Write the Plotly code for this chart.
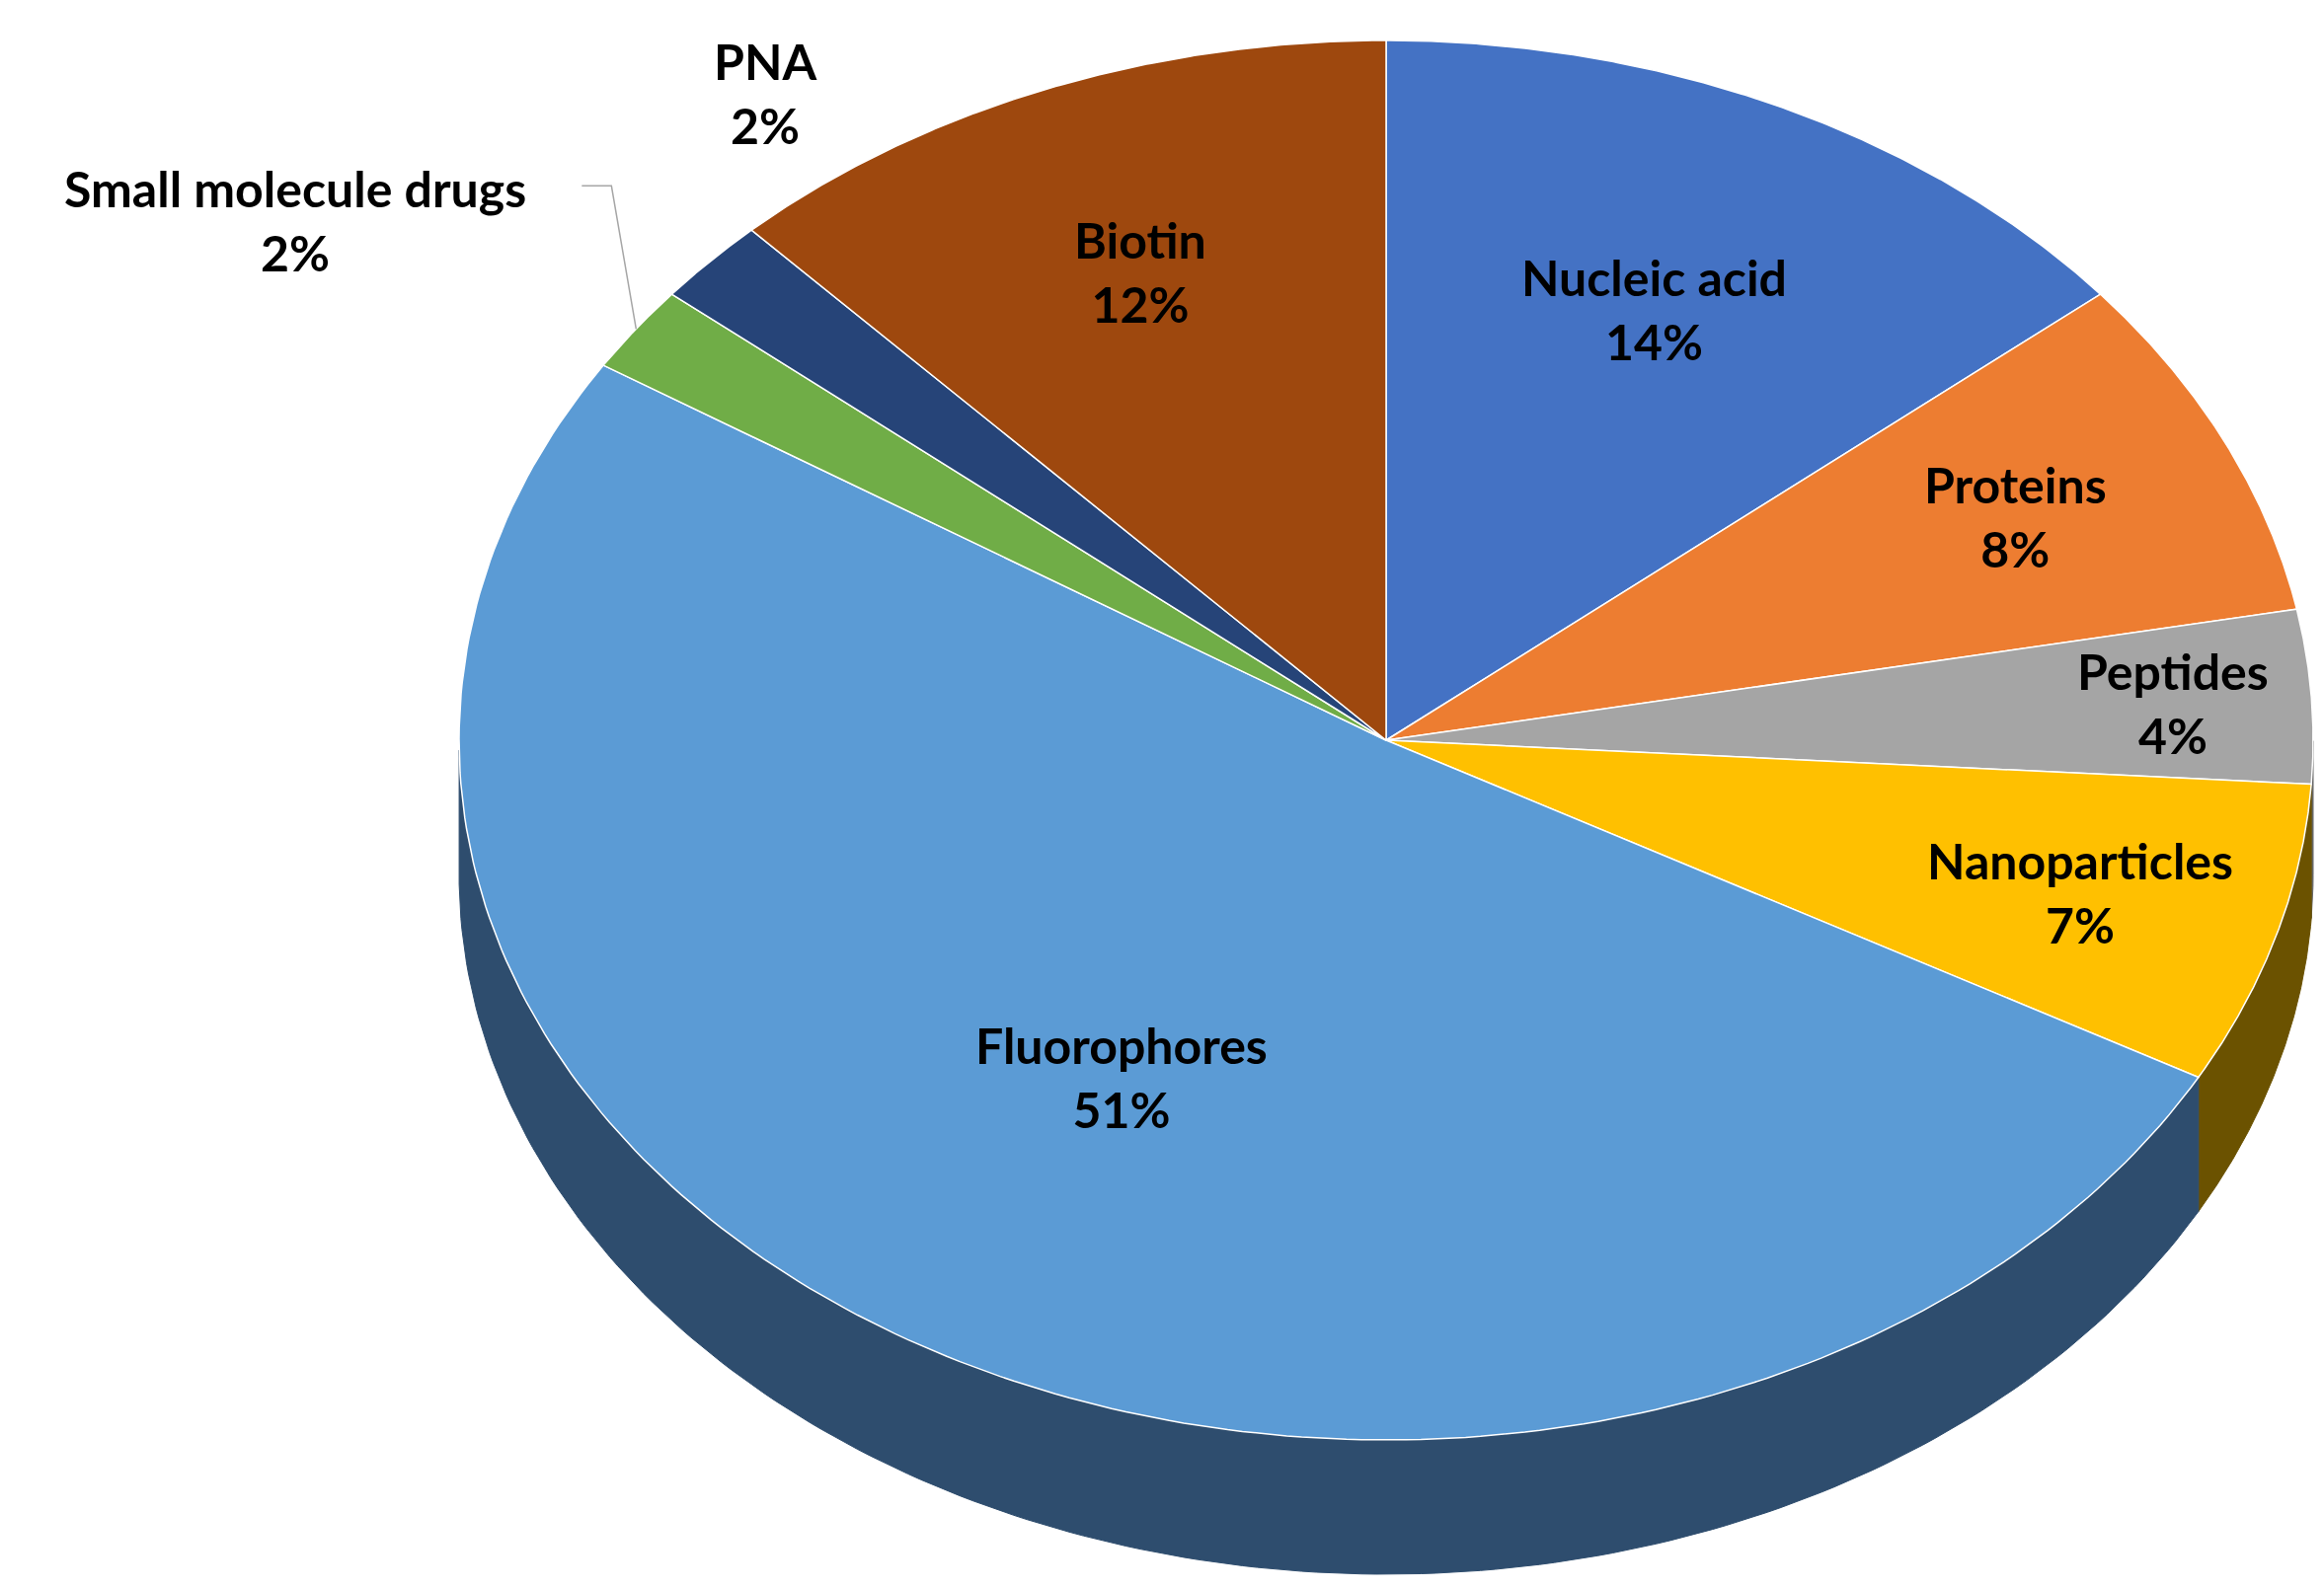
import numpy as np
import plotly.graph_objects as go

labels = ["Nucleic acid", "Proteins", "Peptides", "Nanoparticles",
          "Fluorophores", "Small molecule drugs", "PNA", "Biotin"]
values = [14, 8, 4, 7, 51, 2, 2, 12]
colors = ["#4472C4", "#ED7D31", "#A5A5A5", "#FFC000",
          "#5B9BD5", "#70AD47", "#264478", "#9E480E"]
side_colors = ["#2a4a80", "#8a4a1c", "#666666", "#6b5200",
               "#2e4d6e", "#3f6a28", "#16284a", "#5e2a08"]

# pie geometry (pixel-like units)
cx, cy, rx, ry, depth = 1396, 868, 939, 709, 136
label_r = [0.68, 0.75, 0.85, 0.78, 0.56, 1.0, 1.0, 0.72]
# extra offsets (px) for labels placed outside the pie
label_off = [(0, 0), (0, 0), (0, 0), (0, 0), (0, 0), (-345, 110), (55, 170), (0, 0)]

fig = go.Figure()
total = sum(values)
cum = np.cumsum([0] + values) / total
ang = 90 - 360 * cum  # degrees, clockwise from top


def pt(t):
    r = np.radians(t)
    return cx + rx * np.cos(r), cy + ry * np.sin(r)


# side band (front half only)
for i in range(len(values)):
    ts = np.linspace(ang[i], ang[i + 1], 200)
    s = np.sin(np.radians(ts))
    ts = ts[s < 0]
    if len(ts) < 2:
        continue
    xs, ys = pt(ts)
    px = list(xs) + list(xs[::-1]) + [xs[0]]
    py = list(ys) + list(ys[::-1] - depth) + [ys[0]]
    fig.add_trace(go.Scatter(x=px, y=py, fill="toself", mode="lines",
                             fillcolor=side_colors[i],
                             line=dict(color=side_colors[i], width=1),
                             hoverinfo="skip", showlegend=False))

# top face
for i in range(len(values)):
    ts = np.linspace(ang[i], ang[i + 1], 200)
    xs, ys = pt(ts)
    px = [cx] + list(xs) + [cx]
    py = [cy] + list(ys) + [cy]
    fig.add_trace(go.Scatter(x=px, y=py, fill="toself", mode="lines",
                             fillcolor=colors[i],
                             line=dict(color="white", width=1.5),
                             name=labels[i], hoverinfo="name", showlegend=False))

# labels
for i, lab in enumerate(labels):
    mid = (ang[i] + ang[i + 1]) / 2
    r = np.radians(mid)
    lx = cx + rx * np.cos(r) * label_r[i] + label_off[i][0]
    ly = cy + ry * np.sin(r) * label_r[i] + label_off[i][1]
    pct = round(values[i] / total * 100)
    if lab == "Small molecule drugs":
        ex, ey = cx + rx * np.cos(r), cy + ry * np.sin(r)
        fig.add_trace(go.Scatter(x=[lx + 290, lx + 320, ex], y=[ly + 35, ly + 35, ey],
                                 mode="lines", line=dict(color="#a6a6a6", width=1.5),
                                 hoverinfo="skip", showlegend=False))
    fig.add_annotation(x=lx, y=ly, text=f"{lab}<br>{pct}%", showarrow=False,
                       font=dict(family="Lato", size=50, color="black", weight="bold"))

fig.update_layout(
    width=2354, height=1610,
    margin=dict(l=0, r=0, t=0, b=0),
    plot_bgcolor="white", paper_bgcolor="white",
    xaxis=dict(range=[0, 2354], visible=False),
    yaxis=dict(range=[0, 1610], visible=False),
)
fig.write_html("out.html")
